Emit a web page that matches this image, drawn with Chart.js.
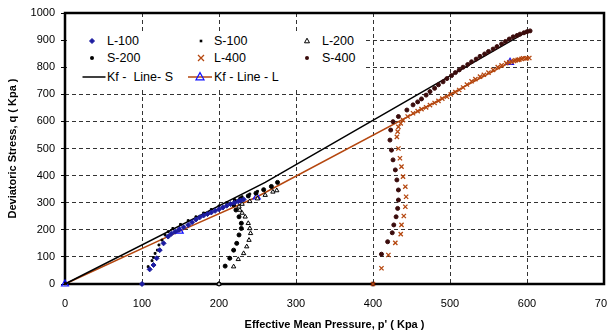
<!DOCTYPE html>
<html lang="en">
<head>
  <meta charset="UTF-8">
  <title>q - p' stress paths</title>
  <script src="https://cdn.jsdelivr.net/npm/chart.js"></script>
  <style>
    body { margin: 0; background: #fff; }
    #wrap { position: relative; width: 607px; height: 336px; }
    #qp { display: block; }
    #legend {
      position: absolute; left: 67px; top: 34px; width: 298px; height: 53px;
      background: #fff; font: 12.5px Arial, "Liberation Sans", sans-serif; color: #000;
    }
    #legend span { position: absolute; line-height: 14px; white-space: pre; }
    #legend svg { position: absolute; overflow: visible; }
  </style>
</head>
<body>
  <div id="wrap">
    <canvas id="qp" width="607" height="336"></canvas>
    <div id="legend"></div>
  </div>

  <script>
    // axis ticks
    const xTicks = [0, 100, 200, 300, 400, 500, 600, 700];
    const yTicks = [0, 100, 200, 300, 400, 500, 600, 700, 800, 900, 1000];

    // stress paths, [p', q] in kPa
    const L100 = [[100,0],[110,54],[115,70],[119,95],[123,125],[128,150],[134,175],[138,185],[143,193],
      [148,200],[154,209],[160,218],[165,228],[170,238],[175,246],[180,253],[185,258],[190,264],
      [195,270],[200,276],[205,282],[210,289],[215,295],[220,300],[225,305],[228,308],[232,312]];
    const S100 = [[100,0],[108,64],[113,86],[115,98],[117,113],[120,125],[122,144],[126,162],[130,181],
      [134,193],[140,205],[150,220],[160,234],[170,248],[180,262],[190,275],[200,288],[210,300],
      [220,312],[230,322],[240,332],[250,342]];
    const L200 = [[200,0],[219,64],[225,91],[232,113],[236,138],[239,162],[241,187],[240,205],[238,224],
      [234,248],[230,262],[227,273],[226,285],[230,295],[240,305],[250,315],[260,328],[270,340],[275,345]];
    const S200 = [[200,0],[208,66],[214,95],[219,125],[223,150],[226,181],[229,205],[229,224],[226,248],
      [222,273],[219,292],[221,305],[228,315],[238,325],[248,335],[258,348],[268,360],[276,375]];
    const L400 = [[400,0],[411,58],[420,107],[429,152],[436,184],[437,218],[440,251],[442,285],[443,322],
      [442,359],[439,396],[437,433],[435,464],[433,500],[431,543],[432,562],[433,580],[436,593],[439,605],
      [445,618],[452,630],[458,638],[463,645],[469,652],[474,660],[480,668],[485,676],[490,684],[496,691],
      [501,700],[507,708],[512,716],[517,725],[522,736],[528,748],[533,756],[539,765],[544,772],[550,780],
      [556,790],[562,800],[567,807],[573,815],[577,818],[580,820],[583,823],[585,825],[588,827],[590,828],
      [593,831],[595,833],[598,832],[600,833],[603,834]];
    const S400 = [[400,0],[411,110],[419,156],[425,189],[427,218],[430,248],[432,279],[433,310],[433,347],
      [431,384],[429,421],[426,458],[424,494],[422,531],[423,568],[426,599],[433,618],[444,642],
      [452,661],[458,672],[463,683],[469,697],[474,710],[480,722],[485,735],[491,746],[496,758],[502,769],
      [507,780],[512,790],[517,800],[523,810],[528,820],[534,830],[539,840],[545,849],[550,858],[556,867],
      [561,876],[567,886],[572,895],[577,904],[582,912],[587,917],[591,922],[596,927],[600,931],[604,934]];
    const KfS = [[0,0],[260,375],[600,931]];
    const KfL = [[0,0],[149,195],[249,321],[578,818]];

    const names = ["L-100", "S-100", "L-200", "S-200", "L-400", "S-400", "Kf -  Line- S", "Kf - Line - L"];

    const BROWN = "#b5470f";
    const NAVY = "#1c1ca0";
    const DARK = "#3a0b0b";
    const FONT = "Arial, 'Liberation Sans', sans-serif";
    const pts = a => a.map(d => ({ x: d[0], y: d[1] }));
    const align = p => Math.round(p - 0.5) + 0.5;

    // legend as html over the plot (white box hides the grid behind it)
    const legendMarks = [
      '<polygon points="0,-2.5 2.5,0 0,2.5 -2.5,0" fill="' + NAVY + '" stroke="' + NAVY + '"/>',
      '<rect x="-1.3" y="-1.3" width="2.6" height="2.6" fill="#000"/>',
      '<polygon points="0,-2.8 2.5,1.8 -2.5,1.8" fill="#fff" stroke="#000" stroke-width="1"/>',
      '<circle r="2" fill="#000"/>',
      '<path d="M-3,-3L3,3M3,-3L-3,3" stroke="' + BROWN + '" stroke-width="1.3"/>',
      '<circle r="2" fill="' + DARK + '"/>',
      '<line x1="-11.5" y1="0" x2="11.5" y2="0" stroke="#000" stroke-width="1.5"/>',
      '<line x1="-12" y1="0" x2="12" y2="0" stroke="' + BROWN + '" stroke-width="1.5"/>' +
        '<polygon points="0,-4.4 4,2.8 -4,2.8" fill="none" stroke="#1010ff" stroke-width="1.2"/>'
    ];
    const legendAt = [[92, 107, 41], [201, 214, 41], [307, 322, 41], [92, 107, 58], [201, 214, 58],
      [307, 322, 58], [93.5, 107, 77], [200, 214, 77]];
    const legend = document.getElementById("legend");
    names.forEach((n, i) => {
      const [mx, tx, y] = legendAt[i];
      legend.insertAdjacentHTML("beforeend",
        '<svg width="1" height="1" style="left:' + (mx - 67) + 'px;top:' + (y - 34) + 'px">' + legendMarks[i] + '</svg>' +
        '<span style="left:' + (tx - 67) + 'px;top:' + (y - 34 - 7) + 'px">' + n + '</span>');
    });

    function drawGrid(chart) {
      const ctx = chart.ctx, a = chart.chartArea;
      const xs = chart.scales.x, ys = chart.scales.y;
      ctx.save();
      ctx.strokeStyle = "#333";
      ctx.lineWidth = 1;
      ctx.setLineDash([4, 3]);
      xs.ticks.forEach(t => {
        const px = align(xs.getPixelForValue(t.value));
        ctx.beginPath(); ctx.moveTo(px, a.top); ctx.lineTo(px, a.bottom); ctx.stroke();
      });
      ys.ticks.forEach(t => {
        const py = align(ys.getPixelForValue(t.value));
        ctx.beginPath(); ctx.moveTo(a.left, py); ctx.lineTo(a.right, py); ctx.stroke();
      });
      ctx.restore();
    }

    // plot frame; grid is redrawn on top only if it went missing
    const frame = {
      id: "frame",
      beforeDatasetsDraw(chart) {
        const ctx = chart.ctx, a = chart.chartArea;
        ctx.save();
        ctx.lineWidth = 2.5;
        ctx.strokeStyle = "#000";
        ctx.strokeRect(a.left, a.top, a.right - a.left, a.bottom - a.top);
        ctx.restore();
      },
      afterDraw(chart) {
        const ctx = chart.ctx;
        const px = Math.floor(chart.scales.x.getPixelForValue(300));
        const img = ctx.getImageData(px, 120, 1, 16).data;
        let dark = false;
        for (let i = 0; i < img.length; i += 4) if (img[i + 3] > 0 && img[i] < 150) dark = true;
        if (!dark) drawGrid(chart);
      }
    };

    new Chart(document.getElementById("qp"), {
      type: "scatter",
      data: {
        datasets: [
          { label: names[0], data: pts(L100), pointStyle: "rectRot", pointRadius: 2.5, borderWidth: 1,
            borderColor: NAVY, backgroundColor: NAVY },
          { label: names[1], data: pts(S100), pointStyle: "rect", pointRadius: 1.3, borderWidth: 1,
            borderColor: "#000", backgroundColor: "#000" },
          { label: names[2], data: pts(L200), pointStyle: "triangle", pointRadius: 2.5, borderWidth: 1,
            borderColor: "#000", backgroundColor: "#fff" },
          { label: names[3], data: pts(S200), pointStyle: "circle", pointRadius: 2, borderWidth: 1,
            borderColor: "#000", backgroundColor: "#000" },
          { label: names[4], data: pts(L400), pointStyle: "crossRot", pointRadius: 3, borderWidth: 1.3,
            borderColor: BROWN, backgroundColor: BROWN },
          { label: names[5], data: pts(S400), pointStyle: "circle", pointRadius: 2, borderWidth: 1,
            borderColor: DARK, backgroundColor: DARK },
          { label: names[6], data: pts(KfS), showLine: true, borderColor: "#000", borderWidth: 1.5,
            pointRadius: 0, backgroundColor: "#000" },
          { label: names[7], data: pts(KfL), showLine: true, borderColor: BROWN, borderWidth: 1.5,
            pointStyle: "triangle", pointRadius: 4, pointBorderWidth: 1.2,
            pointBorderColor: "#1010ff", pointBackgroundColor: "rgba(0,0,0,0)", backgroundColor: BROWN }
        ].map(d => Object.assign({ clip: false }, d))
      },
      options: {
        responsive: false,
        animation: false,
        layout: { padding: { top: 13, right: 3, left: 0, bottom: 0 }, autoPadding: false },
        plugins: { legend: { display: false }, tooltip: { enabled: false } },
        scales: {
          x: {
            type: "linear", min: 0, max: 700,
            afterBuildTicks: s => { s.ticks = xTicks.map(v => ({ value: v })); },
            afterFit: s => { s.height = 52; s.paddingLeft = 0; s.paddingRight = 0; },
            grid: { color: "#333", lineWidth: 1, drawTicks: false },
            border: { display: false, dash: [4, 3] },
            ticks: { color: "#000", font: { family: FONT, size: 11 }, padding: 13, maxRotation: 0,
              callback: v => String(v) },
            title: { display: true, text: "Effective Mean Pressure, p' ( Kpa )", color: "#000",
              font: { family: FONT, size: 11, weight: "bold" }, padding: { top: 0, bottom: 4 } }
          },
          y: {
            type: "linear", min: 0, max: 1000,
            afterBuildTicks: s => { s.ticks = yTicks.map(v => ({ value: v })); },
            afterFit: s => { s.width = 65; s.paddingTop = 0; s.paddingBottom = 0; },
            grid: { color: "#333", lineWidth: 1, drawTicks: true, tickLength: 4, tickColor: "#000" },
            border: { display: false, dash: [4, 3] },
            ticks: { color: "#000", font: { family: FONT, size: 11 }, padding: 6,
              callback: v => String(v) },
            title: { display: true, text: "Deviatoric Stress, q ( Kpa )", color: "#000",
              font: { family: FONT, size: 11, weight: "bold" }, padding: { top: 6, bottom: 0 } }
          }
        }
      },
      plugins: [frame]
    });
  </script>
</body>
</html>
